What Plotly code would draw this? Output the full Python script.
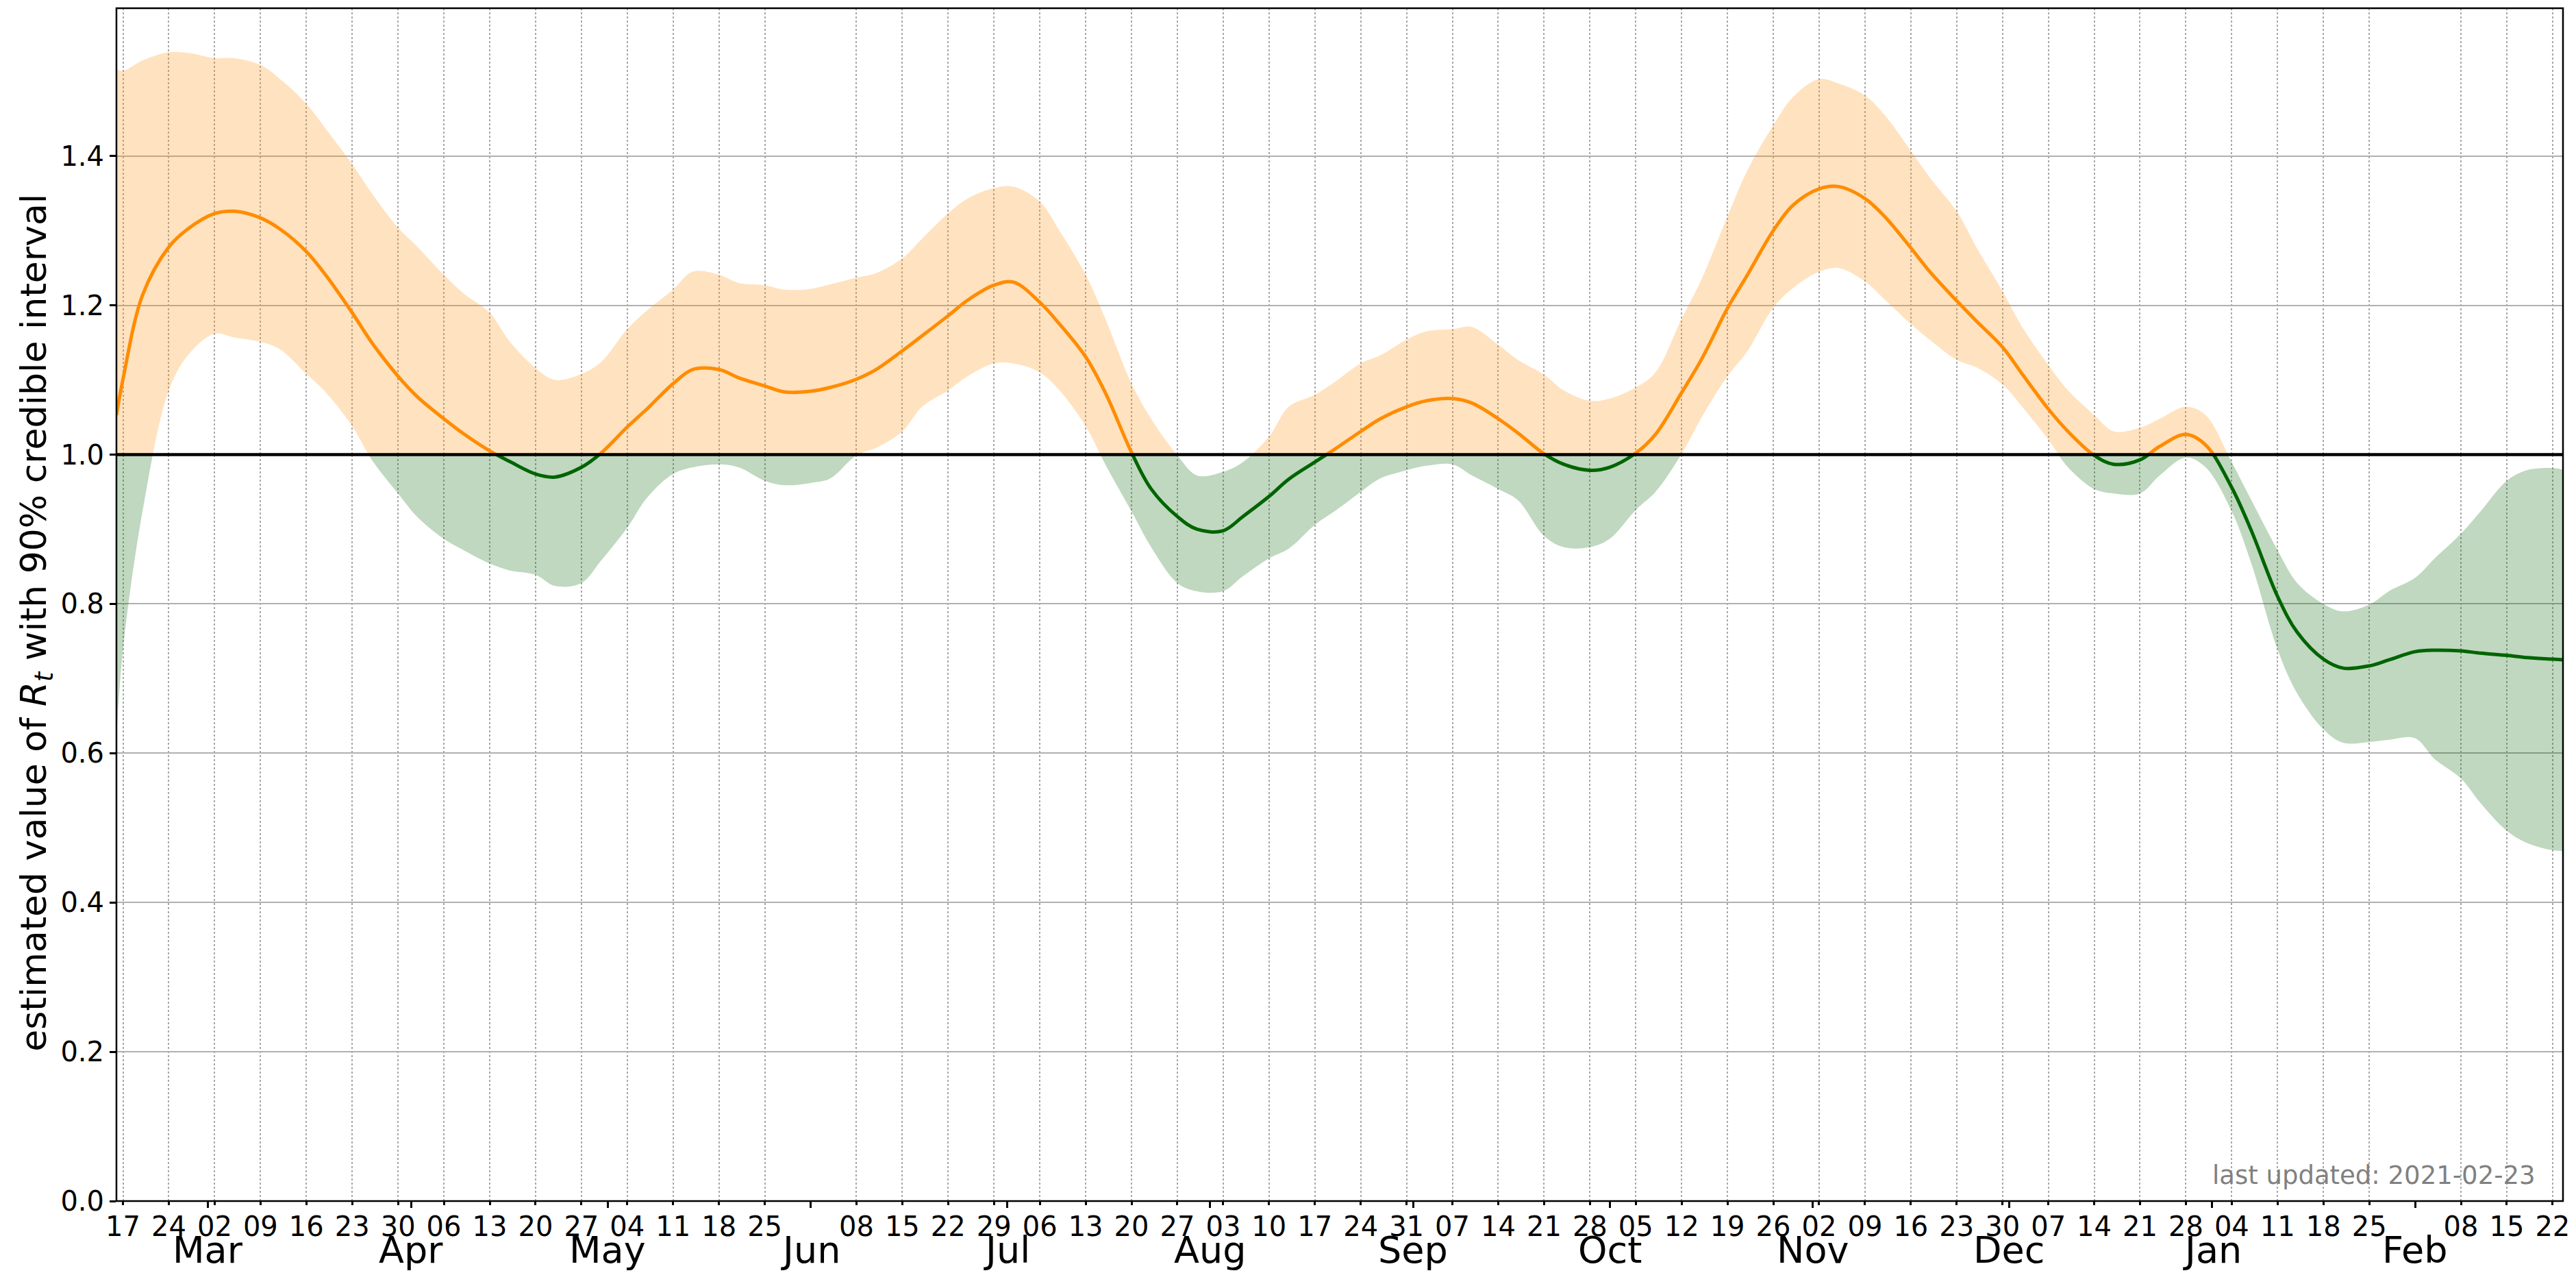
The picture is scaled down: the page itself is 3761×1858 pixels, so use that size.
import pandas as pd
import plotly.graph_objects as go

# ---------------- data ----------------
dates = [
    "2020-02-16", "2020-02-17", "2020-02-20", "2020-02-24", "2020-02-27",
    "2020-03-02", "2020-03-05", "2020-03-09", "2020-03-12", "2020-03-16",
    "2020-03-19", "2020-03-23", "2020-03-26", "2020-03-30", "2020-04-02",
    "2020-04-06", "2020-04-09", "2020-04-13", "2020-04-16", "2020-04-20",
    "2020-04-23", "2020-04-27", "2020-04-30", "2020-05-04", "2020-05-07",
    "2020-05-11", "2020-05-14", "2020-05-18", "2020-05-21", "2020-05-25",
    "2020-05-28", "2020-06-01", "2020-06-04", "2020-06-08", "2020-06-11",
    "2020-06-15", "2020-06-18", "2020-06-22", "2020-06-25", "2020-06-29",
    "2020-07-02", "2020-07-06", "2020-07-09", "2020-07-13", "2020-07-16",
    "2020-07-20", "2020-07-23", "2020-07-27", "2020-07-30", "2020-08-03",
    "2020-08-06", "2020-08-10", "2020-08-13", "2020-08-17", "2020-08-20",
    "2020-08-24", "2020-08-27", "2020-08-31", "2020-09-03", "2020-09-07",
    "2020-09-10", "2020-09-14", "2020-09-17", "2020-09-21", "2020-09-24",
    "2020-09-28", "2020-10-01", "2020-10-05", "2020-10-08", "2020-10-12",
    "2020-10-15", "2020-10-19", "2020-10-22", "2020-10-26", "2020-10-29",
    "2020-11-02", "2020-11-05", "2020-11-09", "2020-11-12", "2020-11-16",
    "2020-11-19", "2020-11-23", "2020-11-26", "2020-11-30", "2020-12-03",
    "2020-12-07", "2020-12-10", "2020-12-14", "2020-12-17", "2020-12-21",
    "2020-12-24", "2020-12-28", "2020-12-31", "2021-01-04", "2021-01-07",
    "2021-01-11", "2021-01-14", "2021-01-18", "2021-01-21", "2021-01-25",
    "2021-01-28", "2021-02-01", "2021-02-04", "2021-02-08", "2021-02-11",
    "2021-02-15", "2021-02-18", "2021-02-22", "2021-02-24",
]

r_upper = [
    1.516, 1.514, 1.528, 1.539, 1.538,
    1.531, 1.531, 1.522, 1.503, 1.470,
    1.436, 1.389, 1.350, 1.304, 1.278,
    1.241, 1.216, 1.190, 1.152, 1.116,
    1.100, 1.108, 1.124, 1.168, 1.193,
    1.221, 1.245, 1.241, 1.230, 1.227,
    1.221, 1.222, 1.228, 1.237, 1.243,
    1.263, 1.289, 1.323, 1.343, 1.357,
    1.359, 1.339, 1.300, 1.241, 1.182,
    1.095, 1.048, 0.999, 0.972, 0.977,
    0.990, 1.024, 1.064, 1.080, 1.097,
    1.122, 1.133, 1.154, 1.165, 1.168,
    1.171, 1.147, 1.127, 1.107, 1.086,
    1.072, 1.075, 1.090, 1.110, 1.182,
    1.234, 1.319, 1.380, 1.441, 1.479,
    1.503, 1.497, 1.481, 1.455, 1.407,
    1.370, 1.326, 1.278, 1.219, 1.171,
    1.120, 1.086, 1.053, 1.031, 1.036,
    1.048, 1.064, 1.053, 0.990, 0.939,
    0.872, 0.828, 0.800, 0.790, 0.799,
    0.817, 0.835, 0.861, 0.894, 0.924,
    0.965, 0.979, 0.982, 0.979,
]

r_mean = [
    1.053, 1.101, 1.214, 1.278, 1.303,
    1.323, 1.326, 1.317, 1.302, 1.272,
    1.240, 1.190, 1.150, 1.105, 1.077,
    1.048, 1.028, 1.005, 0.991, 0.974,
    0.970, 0.983, 1.002, 1.037, 1.061,
    1.095, 1.114, 1.114, 1.103, 1.092,
    1.084, 1.085, 1.090, 1.101, 1.114,
    1.139, 1.159, 1.186, 1.207, 1.227,
    1.231, 1.204, 1.175, 1.131, 1.083,
    1.003, 0.954, 0.917, 0.900, 0.898,
    0.917, 0.944, 0.967, 0.990, 1.007,
    1.031, 1.048, 1.064, 1.072, 1.075,
    1.069, 1.048, 1.029, 1.001, 0.987,
    0.979, 0.983, 1.002, 1.027, 1.083,
    1.127, 1.196, 1.240, 1.300, 1.334,
    1.356, 1.359, 1.343, 1.319, 1.277,
    1.244, 1.206, 1.179, 1.144, 1.108,
    1.061, 1.031, 0.999, 0.987, 0.993,
    1.011, 1.027, 1.013, 0.956, 0.898,
    0.810, 0.762, 0.726, 0.714, 0.717,
    0.725, 0.736, 0.738, 0.737, 0.734,
    0.731, 0.728, 0.726, 0.725,
]

r_lower = [
    0.620, 0.739, 0.925, 1.086, 1.134,
    1.162, 1.157, 1.151, 1.141, 1.108,
    1.083, 1.038, 0.993, 0.948, 0.916,
    0.887, 0.872, 0.854, 0.845, 0.839,
    0.824, 0.828, 0.858, 0.902, 0.942,
    0.974, 0.983, 0.987, 0.983, 0.965,
    0.959, 0.962, 0.968, 0.999, 1.009,
    1.031, 1.064, 1.086, 1.105, 1.122,
    1.122, 1.110, 1.086, 1.038, 0.987,
    0.924, 0.876, 0.828, 0.817, 0.817,
    0.837, 0.861, 0.874, 0.906, 0.924,
    0.950, 0.968, 0.979, 0.985, 0.987,
    0.972, 0.954, 0.939, 0.891, 0.876,
    0.876, 0.887, 0.926, 0.950, 1.001,
    1.049, 1.105, 1.138, 1.197, 1.223,
    1.245, 1.250, 1.232, 1.208, 1.175,
    1.153, 1.127, 1.117, 1.094, 1.064,
    1.020, 0.983, 0.954, 0.948, 0.948,
    0.972, 0.996, 0.983, 0.924, 0.854,
    0.739, 0.680, 0.632, 0.614, 0.615,
    0.618, 0.620, 0.592, 0.566, 0.533,
    0.496, 0.480, 0.470, 0.469,
]

# axis / tick configuration
x_range = ["2020-02-16", "2021-02-23 14:00"]
y_top = 1.598
threshold = 1.0
week_ticks = [d for d in pd.date_range("2020-02-17", "2021-02-22", freq="7D") if d.day != 1]
week_labels = [d.strftime("%d") for d in week_ticks]
month_ticks = list(pd.date_range("2020-03-01", "2021-02-01", freq="MS"))
month_labels = [d.strftime("%b") for d in month_ticks]
y_ticks_low = [0.0, 0.2, 0.4, 0.6, 0.8, 1.0]
y_ticks_high = [1.2, 1.4]
last_updated = "last updated: 2021-02-23"

ORANGE = "#ff8c00"
ORANGE_FILL = "rgba(255,140,0,0.25)"
GREEN = "#006400"
GREEN_FILL = "rgba(0,100,0,0.25)"
FONT = "DejaVu Sans"

fig = go.Figure()

# lower subplot (values below the threshold) -> green, upper subplot -> orange
for yax, line_col, fill_col in (("y", GREEN, GREEN_FILL), ("y2", ORANGE, ORANGE_FILL)):
    fig.add_trace(go.Scatter(x=dates, y=r_lower, mode="lines", yaxis=yax,
                             line=dict(width=0, shape="spline", color=fill_col),
                             showlegend=False, hoverinfo="skip"))
    fig.add_trace(go.Scatter(x=dates, y=r_upper, mode="lines", yaxis=yax,
                             line=dict(width=0, shape="spline", color=fill_col),
                             fill="tonexty", fillcolor=fill_col,
                             showlegend=False, hoverinfo="skip"))
    fig.add_trace(go.Scatter(x=dates, y=r_mean, mode="lines", yaxis=yax,
                             line=dict(width=5, shape="spline", color=line_col),
                             showlegend=False))

split = threshold / y_top
tickfont = dict(family=FONT, size=40, color="black")

yaxis_common = dict(
    tickmode="array", ticks="outside", ticklen=9, tickwidth=2.5, tickcolor="black",
    showgrid=True, gridcolor="#b0b0b0", gridwidth=2, zeroline=False, showline=False,
    tickfont=tickfont, anchor="x", automargin=False,
)

fig.update_layout(
    width=3761, height=1858, autosize=False,
    margin=dict(l=170, r=19, t=12, b=105, pad=0),
    paper_bgcolor="white", plot_bgcolor="white",
    font=dict(family=FONT, color="black"),
    xaxis=dict(
        type="date", range=x_range, automargin=False,
        tickmode="array", tickvals=week_ticks, ticktext=week_labels,
        ticks="outside", ticklen=5, tickwidth=2.5, tickcolor="black",
        ticklabelstandoff=-3,
        showgrid=True, gridcolor="#a8a8a8", gridwidth=1.5, griddash="dot",
        zeroline=False, showline=False, tickfont=tickfont, anchor="y",
        minor=dict(tickmode="array", tickvals=month_ticks, ticks="outside",
                   ticklen=9, tickwidth=2.5, tickcolor="black", showgrid=False),
    ),
    yaxis=dict(domain=[0, split], range=[0, threshold], tickvals=y_ticks_low,
               ticktext=[f"{v:.1f}" for v in y_ticks_low], **yaxis_common),
    yaxis2=dict(domain=[split, 1], range=[threshold, y_top], tickvals=y_ticks_high,
                ticktext=[f"{v:.1f}" for v in y_ticks_high], **yaxis_common),
)

# threshold line and frame
fig.add_shape(type="line", xref="paper", yref="paper", x0=0, x1=1, y0=split, y1=split,
              line=dict(color="black", width=4.5), layer="above")
fig.add_shape(type="rect", xref="paper", yref="paper", x0=0, x1=1, y0=0, y1=1,
              line=dict(color="black", width=2.5), layer="above")

# month labels under the day numbers
for d, lab in zip(month_ticks, month_labels):
    fig.add_annotation(x=d, xref="x", y=0, yref="paper", text=lab, showarrow=False,
                       xanchor="center", yanchor="top", yshift=-38,
                       font=dict(family=FONT, size=54, color="black"))

# y-axis title
fig.add_annotation(x=-0.033, xref="paper", y=0.485, yref="paper",
                   text="estimated value of <i>R</i><sub><i>t</i></sub> with 90% credible interval",
                   textangle=-90, showarrow=False, xanchor="center", yanchor="middle",
                   font=dict(family=FONT, size=52, color="black"))

# last updated note
fig.add_annotation(x=0.9894, xref="paper", y=0.008, yref="paper", text=last_updated,
                   showarrow=False, xanchor="right", yanchor="bottom",
                   font=dict(family=FONT, size=37, color="#808080"))

fig.write_html("out.html",
               config={"displayModeBar": False},
               post_script="document.body.style.margin='0px';document.body.style.overflow='hidden';")
